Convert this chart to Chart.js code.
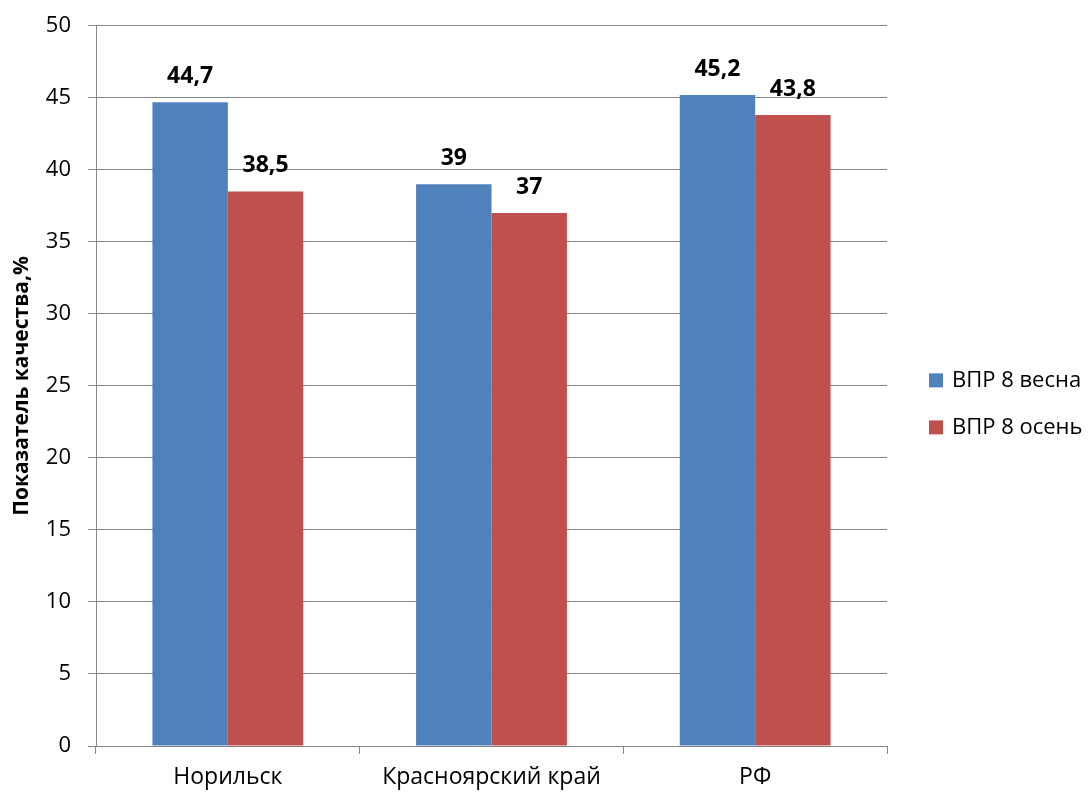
<!DOCTYPE html>
<html><head><meta charset="utf-8">
<script src="https://cdn.jsdelivr.net/npm/chart.js@4.4.0/dist/chart.umd.min.js"></script>
<style>html,body{margin:0;padding:0;background:#fff}#wrap{width:1089px;height:794px}</style>
</head><body><div id="wrap"><canvas id="c"></canvas></div>
<script>
const categories = ["Норильск", "Красноярский край", "РФ"];
const seriesNames = ["ВПР 8 весна", "ВПР 8 осень"];
const spring = [44.7, 39, 45.2];
const autumn = [38.5, 37, 43.8];
const yTicks = [0, 5, 10, 15, 20, 25, 30, 35, 40, 45, 50];

const FONT = "'Open Sans', 'Noto Sans', sans-serif";
const gridColor = '#868686';

const labelPlugin = {
  id: 'valLabels',
  afterDatasetsDraw(chart) {
    const ctx = chart.ctx;
    ctx.save();
    ctx.font = "bold 23px " + FONT;
    ctx.fillStyle = '#000';
    ctx.textAlign = 'center';
    ctx.textBaseline = 'alphabetic';
    chart.data.datasets.forEach((ds, di) => {
      const meta = chart.getDatasetMeta(di);
      meta.data.forEach((bar, i) => {
        ctx.fillText(String(ds.data[i]).replace('.', ','), bar.x, bar.y - 19);
      });
    });
    ctx.restore();
  }
};

const sideLegend = {
  id: 'sideLegend',
  afterDraw(chart) {
    const ctx = chart.ctx;
    const area = chart.chartArea;
    const n = chart.data.datasets.length;
    const step = 47;
    const cy = (area.top + area.bottom) / 2 + 18;
    const x0 = area.right + 42;
    ctx.save();
    ctx.font = "22px " + FONT;
    ctx.textBaseline = 'middle';
    ctx.textAlign = 'left';
    chart.data.datasets.forEach((ds, i) => {
      const y = cy - (n - 1) * step / 2 + i * step;
      ctx.fillStyle = ds.backgroundColor;
      ctx.fillRect(x0, y - 7, 14, 14);
      ctx.fillStyle = '#000';
      ctx.fillText(ds.label, x0 + 23, y);
    });
    ctx.restore();
  }
};

new Chart(document.getElementById('c'), {
  type: 'bar',
  data: {
    labels: categories,
    datasets: [
      { label: seriesNames[0], data: spring, backgroundColor: '#4F81BD' },
      { label: seriesNames[1], data: autumn, backgroundColor: '#C0504D' }
    ]
  },
  options: {
    responsive: true,
    maintainAspectRatio: false,
    animation: false,
    layout: { padding: { left: 9, top: 0, right: 202, bottom: 0 } },
    datasets: { bar: { categoryPercentage: 0.572, barPercentage: 1.0 } },
    plugins: {
      legend: { display: false },
      tooltip: { enabled: false }
    },
    scales: {
      x: {
        grid: { drawOnChartArea: false, offset: true, color: gridColor, tickLength: 8 },
        border: { color: gridColor, width: 1 },
        ticks: { font: { family: FONT, size: 23 }, color: '#000', padding: 10 },
        afterFit(s) { s.height = 48; }
      },
      y: {
        min: 0, max: 50,
        afterBuildTicks(s) { s.ticks = yTicks.map(v => ({ value: v })); },
        grid: { color: gridColor, tickLength: 8 },
        border: { color: gridColor, width: 1 },
        ticks: { font: { family: FONT, size: 22, lineHeight: 0.8 }, color: '#000', padding: 17 },
        title: { display: true, text: 'Показатель качества,%', font: { family: FONT, size: 21, weight: 'bold' }, color: '#000', padding: 0 },
        afterFit(s) { s.width = 87; }
      }
    }
  },
  plugins: [labelPlugin, sideLegend]
});
</script></body></html>
